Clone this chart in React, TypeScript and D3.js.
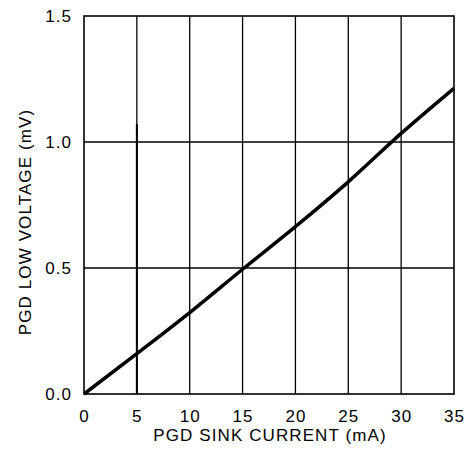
import React, { useEffect, useRef } from "react";
import * as d3 from "d3";

const CHART_WIDTH = 471;
const CHART_HEIGHT = 461;

// PGD sink current (mA) vs PGD low voltage (mV)
const sinkCurrent = [0, 5, 10, 15, 20, 25, 30, 35];
const lowVoltage = [0, 0.16, 0.323, 0.495, 0.664, 0.842, 1.034, 1.213];

const xTicks = [0, 5, 10, 15, 20, 25, 30, 35];
const yTicks = [0, 0.5, 1.0, 1.5];

const xTitle = "PGD SINK CURRENT (mA)";
const yTitle = "PGD LOW VOLTAGE (mV)";

const FONT = "'Liberation Sans', Arial, sans-serif";

const App: React.FC = () => {
  const ref = useRef<SVGSVGElement>(null);

  useEffect(() => {
    if (!ref.current) return;
    const svg = d3.select(ref.current);
    svg.selectAll("*").remove();

    const margin = { top: 16, right: 17, bottom: 67, left: 84 };
    const width = CHART_WIDTH - margin.left - margin.right;
    const height = CHART_HEIGHT - margin.top - margin.bottom;

    const x = d3.scaleLinear().domain([0, 35]).range([0, width]);
    const y = d3.scaleLinear().domain([0, 1.5]).range([height, 0]);

    const g = svg
      .append("g")
      .attr("transform", `translate(${margin.left},${margin.top})`);

    // grid
    g.append("g")
      .selectAll("line")
      .data(xTicks.slice(1, -1))
      .enter()
      .append("line")
      .attr("x1", (d) => x(d))
      .attr("x2", (d) => x(d))
      .attr("y1", 0)
      .attr("y2", height)
      .attr("stroke", "#000")
      .attr("stroke-width", 1.3);

    g.append("g")
      .selectAll("line")
      .data(yTicks.slice(1, -1))
      .enter()
      .append("line")
      .attr("x1", 0)
      .attr("x2", width)
      .attr("y1", (d) => y(d))
      .attr("y2", (d) => y(d))
      .attr("stroke", "#000")
      .attr("stroke-width", 1.3);

    // the heavier lower part of the 5 mA gridline in the original
    g.append("line")
      .attr("x1", x(5))
      .attr("x2", x(5))
      .attr("y1", y(1.07))
      .attr("y2", height)
      .attr("stroke", "#000")
      .attr("stroke-width", 2);

    // frame
    g.append("rect")
      .attr("x", 0)
      .attr("y", 0)
      .attr("width", width)
      .attr("height", height)
      .attr("fill", "none")
      .attr("stroke", "#000")
      .attr("stroke-width", 1.6);

    // tick labels
    g.append("g")
      .selectAll("text")
      .data(xTicks)
      .enter()
      .append("text")
      .attr("x", (d) => x(d) + 0.5)
      .attr("y", height + 28)
      .attr("text-anchor", "middle")
      .style("font-family", FONT)
      .style("font-size", "17px")
      .style("letter-spacing", "1px")
      .text((d) => d3.format("d")(d));

    g.append("g")
      .selectAll("text")
      .data(yTicks)
      .enter()
      .append("text")
      .attr("x", -12)
      .attr("y", (d) => y(d))
      .attr("dy", "0.36em")
      .attr("text-anchor", "end")
      .style("font-family", FONT)
      .style("font-size", "17px")
      .style("letter-spacing", "1px")
      .text((d) => d3.format(".1f")(d));

    // titles
    svg
      .append("text")
      .attr("x", margin.left + width / 2 + 1)
      .attr("y", 441)
      .attr("text-anchor", "middle")
      .style("font-family", FONT)
      .style("font-size", "17px")
      .style("letter-spacing", "1.1px")
      .text(xTitle);

    svg
      .append("text")
      .attr("transform", `translate(31,${margin.top + height / 2 + 17}) rotate(-90)`)
      .attr("text-anchor", "middle")
      .style("font-family", FONT)
      .style("font-size", "17px")
      .style("letter-spacing", "1.1px")
      .text(yTitle);

    // curve
    const pts = sinkCurrent.map((c, i) => [c, lowVoltage[i]] as [number, number]);
    const line = d3
      .line<[number, number]>()
      .x((d) => x(d[0]))
      .y((d) => y(d[1]))
      .curve(d3.curveMonotoneX);

    g.append("path")
      .datum(pts)
      .attr("fill", "none")
      .attr("stroke", "#000")
      .attr("stroke-width", 3.5)
      .attr("d", line);
  }, []);

  return (
    <svg
      ref={ref}
      width={CHART_WIDTH}
      height={CHART_HEIGHT}
      style={{ position: "absolute", left: 0, top: 0, background: "#fff" }}
    />
  );
};

export default App;
